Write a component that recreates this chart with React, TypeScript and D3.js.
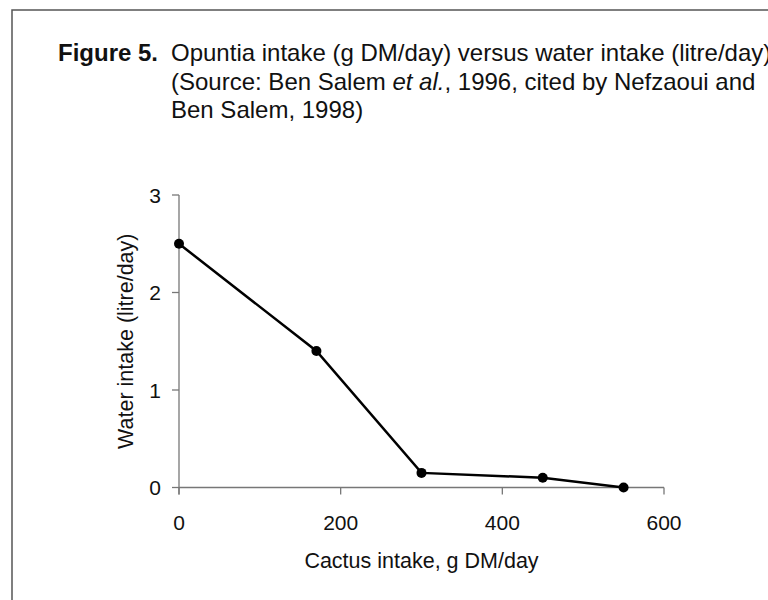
import * as d3 from "d3";

const cactusIntake = [0, 170, 300, 450, 550];
const waterIntake = [2.5, 1.4, 0.15, 0.1, 0];
const xTicks = [0, 200, 400, 600];
const yTicks = [0, 1, 2, 3];
const titleLines = [
  "Opuntia intake (g DM/day) versus water intake (litre/day)",
  "(Source: Ben Salem ",
  "Ben Salem, 1998)",
];

const FONT = "Arial, 'Liberation Sans', Helvetica, sans-serif";
const AXIS = "#777";

export default function App() {
  const width = 768;
  const height = 600;

  const x = d3.scaleLinear().domain([0, 600]).range([179, 664]);
  const y = d3.scaleLinear().domain([0, 3]).range([487.5, 195]);

  const points = cactusIntake.map((c, i) => ({ c, w: waterIntake[i] }));
  const line = d3
    .line<{ c: number; w: number }>()
    .x((d) => x(d.c))
    .y((d) => y(d.w));

  const textX = 171;
  const lineGap = 28.5;

  return (
    <svg
      width={width}
      height={height}
      style={{ position: "absolute", left: 0, top: 0, display: "block" }}
      fontFamily={FONT}
    >
      <rect x={0} y={0} width={width} height={height} fill="#fff" />
      {/* frame, runs off the right and bottom edges */}
      <rect x={12} y={10} width={800} height={640} fill="none" stroke="#555" strokeWidth={1.5} />

      {/* caption */}
      <g fontSize={24} fill="#111">
        <text x={58} y={61} fontWeight="bold">Figure 5.</text>
        <text x={textX} y={61}>{titleLines[0]}</text>
        <text x={textX} y={61 + lineGap}>
          {titleLines[1]}
          <tspan fontStyle="italic">et al.</tspan>
          , 1996, cited by Nefzaoui and
        </text>
        <text x={textX} y={61 + lineGap * 2}>{titleLines[2]}</text>
      </g>

      {/* y axis */}
      <line x1={x(0)} x2={x(0)} y1={y(3)} y2={y(0) + 7} stroke={AXIS} strokeWidth={1.3} />
      {yTicks.map((t) => (
        <g key={"y" + t}>
          <line x1={x(0) - 7} x2={x(0)} y1={y(t)} y2={y(t)} stroke={AXIS} strokeWidth={1.3} />
          <text x={x(0) - 18} y={y(t)} dy="0.36em" textAnchor="end" fontSize={21} fill="#111">
            {t}
          </text>
        </g>
      ))}

      {/* x axis */}
      <line x1={x(0)} x2={x(600)} y1={y(0)} y2={y(0)} stroke={AXIS} strokeWidth={1.3} />
      {xTicks.map((t) => (
        <g key={"x" + t}>
          <line x1={x(t)} x2={x(t)} y1={y(0)} y2={y(0) + 7} stroke={AXIS} strokeWidth={1.3} />
          <text x={x(t)} y={530} textAnchor="middle" fontSize={21} fill="#111">
            {t}
          </text>
        </g>
      ))}

      <text x={(x(0) + x(600)) / 2} y={568} textAnchor="middle" fontSize={21.5} fill="#111">
        Cactus intake, g DM/day
      </text>
      <text
        transform={`translate(133,${(y(0) + y(3)) / 2}) rotate(-90)`}
        textAnchor="middle"
        fontSize={21.5}
        fill="#111"
      >
        Water intake (litre/day)
      </text>

      {/* series */}
      <path d={line(points) || ""} fill="none" stroke="#000" strokeWidth={2.5} />
      {points.map((p, i) => (
        <circle key={i} cx={x(p.c)} cy={y(p.w)} r={5} fill="#000" />
      ))}
    </svg>
  );
}
